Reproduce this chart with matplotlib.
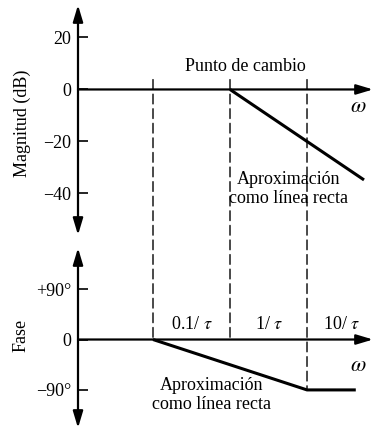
import numpy as np
import matplotlib
matplotlib.use("Agg")
import matplotlib.pyplot as plt
from matplotlib.patches import ConnectionPatch

plt.rcParams['font.family'] = ['Liberation Serif', 'DejaVu Serif']
plt.rcParams['mathtext.fontset'] = 'stix'

# Datos (frecuencia en múltiplos de 1/tau)
w_quiebre = [0.1, 1, 10]
mag_w = [1, 55]            # asíntota de magnitud
mag_db = [0, -34.8]
fase_w = [0.1, 10, 43]     # asíntota de fase
fase_deg = [0, -90, -90]
mag_ticks = [20, 0, -20, -40]
mag_labels = ['20', '0', '\u221220', '\u221240']
fase_ticks = [90, 0, -90]
fase_labels = ['+90\u00b0', '0', '\u221290\u00b0']
etiquetas_w = ['0.1/ $\\tau$', '1/ $\\tau$', '10/ $\\tau$']
pos_etiquetas = [0.32, 3.2, 28]

xmin, xmax = 10**-1.974, 10**1.857

fig = plt.figure(figsize=(3.74, 4.29), dpi=100)
ax1 = fig.add_axes([78/374, 1-235/429, 295/374, 230/429])
ax2 = fig.add_axes([78/374, 1-428/429, 295/374, 180/429])

ax1.set_ylim(-56, 32.5)
ax2.set_ylim(-158, 163.4)

for ax in (ax1, ax2):
    ax.set_xscale('log')
    ax.set_xlim(xmin, xmax)
    for s in ax.spines.values():
        s.set_visible(False)
    ax.set_xticks([])
    ax.minorticks_off()
    ax.tick_params(axis='x', which='both', bottom=False, labelbottom=False)
    ax.tick_params(axis='y', direction='in', length=7, width=1.2, pad=5, labelsize=13)
    ax.patch.set_visible(False)
    # ejes con flechas
    ax.annotate('', xy=(0, 1), xycoords='axes fraction', xytext=(0, 0),
                arrowprops=dict(arrowstyle='<|-|>,head_length=1.0,head_width=0.3',
                                lw=1.6, color='k', shrinkA=0, shrinkB=0))
    ax.annotate('', xy=(1, 0), xycoords=('axes fraction', 'data'),
                xytext=(0, 0), textcoords=('axes fraction', 'data'),
                arrowprops=dict(arrowstyle='-|>,head_length=1.0,head_width=0.3',
                                lw=1.6, color='k', shrinkA=0, shrinkB=0))

ax1.text(46, -7.1, '$\\omega$', fontsize=16, ha='center', va='center')
ax2.text(46, -49, '$\\omega$', fontsize=16, ha='center', va='center')

ax1.set_yticks(mag_ticks)
ax1.set_yticklabels(mag_labels)
ax2.set_yticks(fase_ticks)
ax2.set_yticklabels(fase_labels)

ax1.plot(mag_w, mag_db, color='k', lw=2.2, solid_capstyle='butt')
ax2.plot(fase_w, fase_deg, color='k', lw=2.2, solid_capstyle='butt')

# líneas punteadas entre ambas gráficas
fin_fase = [0, 0, -90]
for w, yb in zip(w_quiebre, fin_fase):
    con = ConnectionPatch(xyA=(w, 3.8), coordsA=ax1.transData,
                          xyB=(w, yb), coordsB=ax2.transData,
                          color='k', lw=1.0, linestyle=(0, (7, 3.5)))
    fig.add_artist(con)

ax1.text(1.6, 8.7, 'Punto de cambio', fontsize=13, ha='center', va='center')
ax1.text(5.8, -38.3, 'Aproximación\ncomo línea recta', fontsize=13,
         ha='center', va='center', linespacing=1.2)
ax2.text(0.58, -99, 'Aproximación\ncomo línea recta', fontsize=13,
         ha='center', va='center', linespacing=1.2)
for lab, p in zip(etiquetas_w, pos_etiquetas):
    ax2.text(p, 26, lab, fontsize=13, ha='center', va='center')

fig.text(22/374, 1-123/429, 'Magnitud (dB)', rotation=90, fontsize=13,
         ha='center', va='center')
fig.text(21/374, 1-335/429, 'Fase', rotation=90, fontsize=13,
         ha='center', va='center')

fig.savefig('out.png', dpi=100)
